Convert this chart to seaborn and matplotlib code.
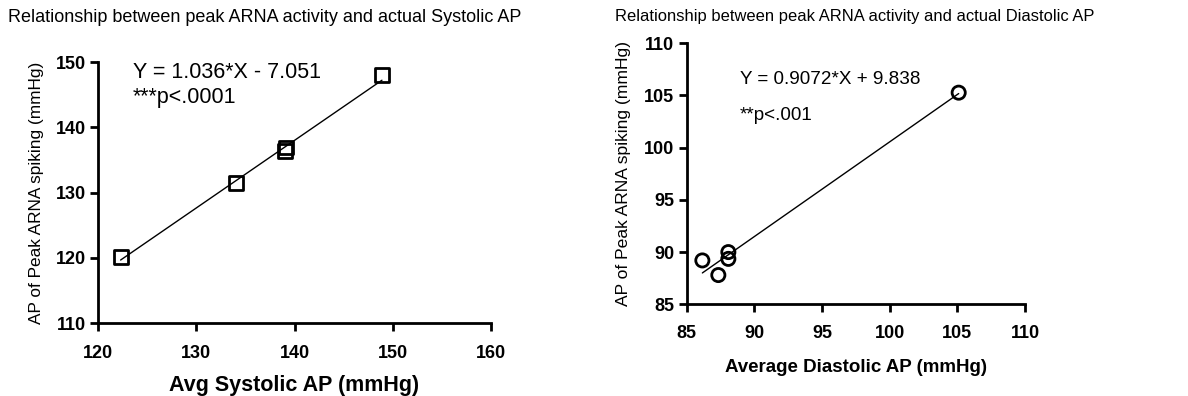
import numpy as np
import pandas as pd
import matplotlib
matplotlib.use("Agg")
import matplotlib.pyplot as plt
import seaborn as sns

# ---- data ----
sys_avg = [122.3, 134.0, 139.0, 139.1, 148.9]
sys_peak = [120.1, 131.4, 136.3, 136.9, 148.0]
sys_slope, sys_icept = 1.036, -7.051

dia_avg = [86.16, 87.34, 88.08, 88.08, 105.1]
dia_peak = [89.2, 87.8, 90.0, 89.35, 105.27]
dia_slope, dia_icept = 0.9072, 9.838

sys_xticks = [120, 130, 140, 150, 160]
sys_yticks = [110, 120, 130, 140, 150]
dia_ticks = [85, 90, 95, 100, 105, 110]

sns.set_style("ticks")
plt.rcParams['font.family'] = ['Liberation Sans', 'DejaVu Sans']
plt.rcParams.update({'text.color': 'black', 'axes.labelcolor': 'black',
                     'xtick.color': 'black', 'ytick.color': 'black'})

fig = plt.figure(figsize=(11.88, 3.96), dpi=100)
ax1 = fig.add_axes([0.0825, 0.1843, 0.3308, 0.6591])
ax2 = fig.add_axes([0.578, 0.2316, 0.2848, 0.6591])

def style(ax, pad):
    sns.despine(ax=ax)
    for s in ['left', 'bottom']:
        ax.spines[s].set_linewidth(2.0)
        ax.spines[s].set_color('black')
    ax.tick_params(axis='both', length=6, width=2.0, labelsize=13, color='black',
                   labelcolor='black', pad=3)
    ax.tick_params(axis='x', pad=pad)
    for lab in ax.get_xticklabels() + ax.get_yticklabels():
        lab.set_fontweight('bold')

# left panel
df1 = pd.DataFrame({'x': sys_avg, 'y': sys_peak})
xs = np.array([min(sys_avg), max(sys_avg)])
sns.lineplot(x=xs, y=sys_slope * xs + sys_icept, ax=ax1, color='black', lw=1.0)
sns.scatterplot(data=df1, x='x', y='y', ax=ax1, marker='s', s=100,
                facecolor='none', edgecolor='black', linewidth=2.0, clip_on=False, zorder=3)
ax1.set_xlim(120, 160)
ax1.set_ylim(110, 150)
ax1.set_xticks(sys_xticks)
ax1.set_yticks(sys_yticks)
style(ax1, 10)
ax1.set_xlabel('Avg Systolic AP (mmHg)', fontsize=15.5, fontweight='bold', labelpad=9)
ax1.set_ylabel('AP of Peak ARNA spiking (mmHg)', fontsize=12.4, labelpad=8)
ax1.text(133 / 1188, 1 - 73 / 396, 'Y = 1.036*X - 7.051', transform=fig.transFigure,
         fontsize=15.5, va='center', ha='left')
ax1.text(133 / 1188, 1 - 98 / 396, '***p<.0001', transform=fig.transFigure,
         fontsize=15.5, va='center', ha='left')
fig.text(8 / 1188, 1 - 17 / 396, 'Relationship between peak ARNA activity and actual Systolic AP',
         fontsize=13, va='center', ha='left')

# right panel
df2 = pd.DataFrame({'x': dia_avg, 'y': dia_peak})
xs2 = np.array([min(dia_avg), max(dia_avg)])
sns.lineplot(x=xs2, y=dia_slope * xs2 + dia_icept, ax=ax2, color='black', lw=1.0)
sns.scatterplot(data=df2, x='x', y='y', ax=ax2, marker='o', s=90,
                facecolor='none', edgecolor='black', linewidth=2.0, clip_on=False, zorder=3)
ax2.set_xlim(85, 110)
ax2.set_ylim(85, 110)
ax2.set_xticks(dia_ticks)
ax2.set_yticks(dia_ticks)
style(ax2, 9)
ax2.set_xlabel('Average Diastolic AP (mmHg)', fontsize=13.5, fontweight='bold', labelpad=12)
ax2.set_ylabel('AP of Peak ARNA spiking (mmHg)', fontsize=12.6, labelpad=9)
ax2.text(740 / 1188, 1 - 80 / 396, 'Y = 0.9072*X + 9.838', transform=fig.transFigure,
         fontsize=13.6, va='center', ha='left')
ax2.text(740 / 1188, 1 - 115 / 396, '**p<.001', transform=fig.transFigure,
         fontsize=13.6, va='center', ha='left')
fig.text(615 / 1188, 1 - 17 / 396, 'Relationship between peak ARNA activity and actual Diastolic AP',
         fontsize=11.9, va='center', ha='left')

fig.savefig('out.png', dpi=100)
